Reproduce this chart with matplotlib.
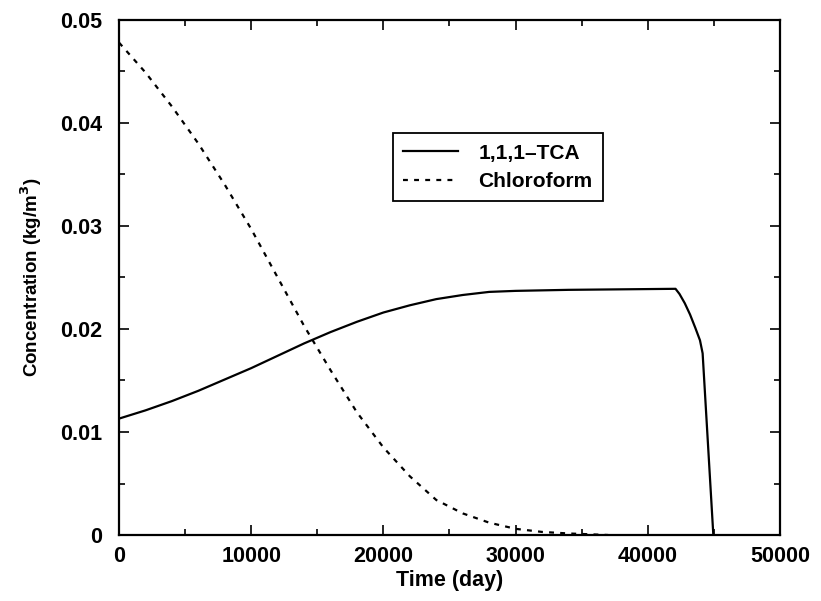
import matplotlib
matplotlib.use("Agg")
import matplotlib.pyplot as plt
from matplotlib.ticker import MultipleLocator
import numpy as np

plt.rcParams['font.family'] = ['Liberation Sans', 'DejaVu Sans']
plt.rcParams['font.weight'] = 'bold'

# 1,1,1-TCA (solid)
tca_t = [0, 2000, 4000, 6000, 8000, 10000, 12000, 14000, 16000, 18000, 20000, 22000,
         24000, 26000, 28000, 30000, 34000, 42100, 42400, 42800, 43200, 43600, 43950,
         44150, 44960]
tca_c = [0.0113, 0.0121, 0.0130, 0.0140, 0.0151, 0.0162, 0.0174, 0.0186, 0.0197,
         0.0207, 0.0216, 0.0223, 0.0229, 0.0233, 0.0236, 0.0237, 0.0238, 0.0239,
         0.0234, 0.0225, 0.0214, 0.0201, 0.0189, 0.01764, 0.0]

# Chloroform (dashed)
chl_t = [0, 2000, 4000, 6000, 8000, 10000, 12000, 14000, 16000, 18000, 20000, 22000,
         24000, 26000, 28000, 30000, 32000, 34000, 36000, 37000]
chl_c = [0.0478, 0.0449, 0.0416, 0.0380, 0.0340, 0.0297, 0.0250, 0.0203, 0.0160,
         0.0119, 0.0085, 0.0057, 0.0034, 0.0021, 0.0012, 0.0006, 0.0003, 0.00015,
         0.00005, 0.0]

series_labels = ['1,1,1\u2013TCA', 'Chloroform']
x_ticks = [0, 10000, 20000, 30000, 40000, 50000]
y_ticks = [0, 0.01, 0.02, 0.03, 0.04, 0.05]
y_tick_labels = ['0', '0.01', '0.02', '0.03', '0.04', '0.05']

fig = plt.figure(figsize=(8.21, 6.01), dpi=100)
ax = fig.add_axes([0.145, 0.1098, 0.805, 0.857])

ax.plot(tca_t, tca_c, color='black', lw=1.6, label=series_labels[0])
ax.plot(chl_t, chl_c, color='black', lw=1.6, linestyle=(0, (2.2, 2.8)), label=series_labels[1])

ax.set_xlim(0, 50000)
ax.set_ylim(0, 0.05)
ax.set_xticks(x_ticks)
ax.set_xticklabels([str(v) for v in x_ticks])
ax.set_yticks(y_ticks)
ax.set_yticklabels(y_tick_labels)
ax.xaxis.set_minor_locator(MultipleLocator(5000))
ax.yaxis.set_minor_locator(MultipleLocator(0.005))

ax.tick_params(which='both', direction='in', top=True, right=True, width=1.2)
ax.tick_params(which='major', length=7)
ax.tick_params(which='minor', length=4)
ax.tick_params(axis='x', which='major', labelsize=15.5, pad=8)
ax.tick_params(axis='y', which='major', labelsize=15.5, pad=12)
for lab in ax.get_xticklabels() + ax.get_yticklabels():
    lab.set_fontweight('bold')
for sp in ax.spines.values():
    sp.set_linewidth(1.6)

ax.set_xlabel('Time (day)', fontsize=15.5, fontweight='bold', labelpad=2)
ax.set_ylabel('Concentration (kg/m$^\\mathbf{3}$)', fontsize=13.5, fontweight='bold', labelpad=12)

leg = ax.legend(loc='upper left', bbox_to_anchor=(0.4145, 0.78), borderaxespad=0,
                frameon=True, fancybox=False, edgecolor='black', fontsize=15,
                handlelength=2.6, borderpad=0.5, labelspacing=0.45, handletextpad=1.0,
                framealpha=1)
leg.get_frame().set_linewidth(1.3)
for t in leg.get_texts():
    t.set_fontweight('bold')

fig.savefig('out.png', dpi=100)
